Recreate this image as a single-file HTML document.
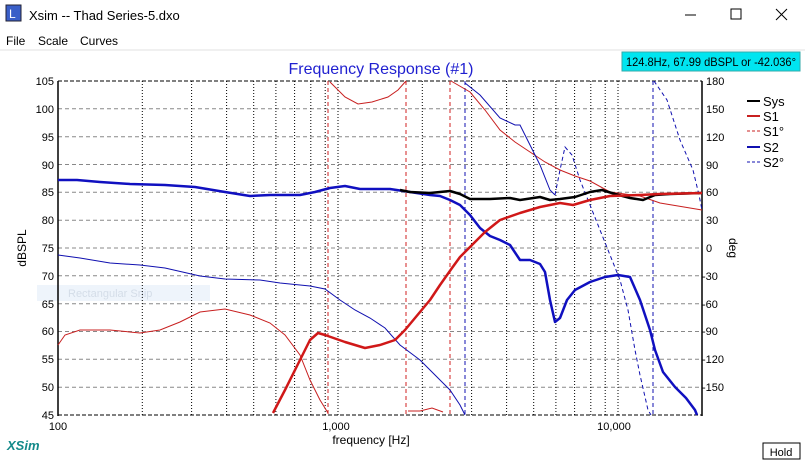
<!DOCTYPE html>
<html><head><meta charset="utf-8"><style>
body{margin:0;width:805px;height:460px;overflow:hidden;background:#fff;font-family:"Liberation Sans",sans-serif}
</style></head><body>
<svg width="805" height="460" xmlns="http://www.w3.org/2000/svg" font-family="Liberation Sans, sans-serif">
<rect width="805" height="460" fill="#fff"/>
<rect x="6" y="5" width="15" height="16" fill="#3a5fc8" stroke="#223" stroke-width="1"/>
<text x="9" y="18" font-size="12" fill="#fff">L</text>
<text x="29" y="20" font-size="13" fill="#000">Xsim -- Thad Series-5.dxo</text>
<line x1="685" y1="15" x2="696" y2="15" stroke="#000"/>
<rect x="731" y="9" width="10" height="10" fill="none" stroke="#000"/>
<path d="M776 9 L787 20 M787 9 L776 20" stroke="#000"/>
<text x="6" y="45" font-size="12">File</text>
<text x="38" y="45" font-size="12">Scale</text>
<text x="80" y="45" font-size="12">Curves</text>
<line x1="0" y1="50" x2="805" y2="50" stroke="#f0f0f0" stroke-width="2"/>
<text x="381" y="74" font-size="16" fill="#1f1fd0" text-anchor="middle">Frequency Response (#1)</text>
<rect x="622" y="52" width="178" height="19" fill="#00e5f0" stroke="#3aa" stroke-width="1"/>
<text x="626" y="66" font-size="12" textLength="170" lengthAdjust="spacingAndGlyphs">124.8Hz, 67.99 dBSPL or -42.036°</text>
<rect x="37" y="285" width="173" height="16" fill="#eef4fb"/>
<text x="68" y="297" font-size="11" fill="#d4dde8">Rectangular Snip</text>
<g stroke="#888" stroke-dasharray="4,3" stroke-width="1">
<line x1="58" y1="108.8" x2="702" y2="108.8"/><line x1="58" y1="136.7" x2="702" y2="136.7"/>
<line x1="58" y1="164.5" x2="702" y2="164.5"/><line x1="58" y1="192.3" x2="702" y2="192.3"/>
<line x1="58" y1="220.2" x2="702" y2="220.2"/><line x1="58" y1="248" x2="702" y2="248"/>
<line x1="58" y1="275.8" x2="702" y2="275.8"/><line x1="58" y1="303.7" x2="702" y2="303.7"/>
<line x1="58" y1="331.5" x2="702" y2="331.5"/><line x1="58" y1="359.3" x2="702" y2="359.3"/>
<line x1="58" y1="387.2" x2="702" y2="387.2"/>
</g>
<line x1="58" y1="81" x2="702" y2="81" stroke="#000" stroke-dasharray="4,2"/>
<line x1="58" y1="415" x2="702" y2="415" stroke="#000" stroke-dasharray="4,2"/>
<g stroke="#000" stroke-dasharray="1,2" stroke-width="1">
<line x1="142.3" y1="81" x2="142.3" y2="415"/><line x1="191.6" y1="81" x2="191.6" y2="415"/>
<line x1="226.6" y1="81" x2="226.6" y2="415"/><line x1="253.7" y1="81" x2="253.7" y2="415"/>
<line x1="275.9" y1="81" x2="275.9" y2="415"/><line x1="294.6" y1="81" x2="294.6" y2="415"/>
<line x1="310.8" y1="81" x2="310.8" y2="415"/><line x1="325.2" y1="81" x2="325.2" y2="415"/>
<line x1="338" y1="81" x2="338" y2="415"/>
<line x1="422.3" y1="81" x2="422.3" y2="415"/><line x1="471.6" y1="81" x2="471.6" y2="415"/>
<line x1="506.6" y1="81" x2="506.6" y2="415"/><line x1="533.7" y1="81" x2="533.7" y2="415"/>
<line x1="555.9" y1="81" x2="555.9" y2="415"/><line x1="574.6" y1="81" x2="574.6" y2="415"/>
<line x1="590.8" y1="81" x2="590.8" y2="415"/><line x1="605.2" y1="81" x2="605.2" y2="415"/>
<line x1="618" y1="81" x2="618" y2="415"/>
</g>
<line x1="58" y1="81" x2="58" y2="416" stroke="#000" stroke-width="1.5"/>
<line x1="702" y1="81" x2="702" y2="416" stroke="#000" stroke-width="1.5"/>
<g font-size="11" text-anchor="end">
<text x="54" y="85">105</text><text x="54" y="113">100</text><text x="54" y="141">95</text>
<text x="54" y="169">90</text><text x="54" y="196">85</text><text x="54" y="224">80</text>
<text x="54" y="252">75</text><text x="54" y="280">70</text><text x="54" y="308">65</text>
<text x="54" y="335">60</text><text x="54" y="363">55</text><text x="54" y="391">50</text>
<text x="54" y="419">45</text>
</g>
<g font-size="11">
<text x="706" y="85">180</text><text x="706" y="113">150</text><text x="706" y="141">120</text>
<text x="706" y="169">90</text><text x="706" y="196">60</text><text x="706" y="224">30</text>
<text x="706" y="252">0</text><text x="702" y="280">-30</text><text x="702" y="308">-60</text>
<text x="702" y="335">-90</text><text x="702" y="363">-120</text><text x="702" y="391">-150</text>
</g>
<text x="22" y="248" font-size="12" transform="rotate(-90 22 248)" text-anchor="middle" dy="4">dBSPL</text>
<text x="733" y="248" font-size="12" transform="rotate(90 733 248)" text-anchor="middle" dy="4">deg</text>
<g font-size="11" text-anchor="middle">
<text x="58" y="430">100</text><text x="336" y="430">1,000</text><text x="614" y="430">10,000</text>
</g>
<text x="371" y="444" font-size="12" text-anchor="middle">frequency [Hz]</text>
<text x="7" y="450" font-size="13" font-weight="bold" font-style="italic" fill="#138a8a">XSim</text>
<rect x="763" y="443" width="37" height="16" fill="#fff" stroke="#000"/>
<text x="781" y="456" font-size="11" text-anchor="middle">Hold</text>
<g stroke-width="2">
<line x1="747" y1="101" x2="760" y2="101" stroke="#000"/>
<line x1="747" y1="116" x2="760" y2="116" stroke="#c82020"/>
<line x1="747" y1="131" x2="760" y2="131" stroke="#c82020" stroke-width="1" stroke-dasharray="3,2"/>
<line x1="747" y1="147" x2="760" y2="147" stroke="#1010b0"/>
<line x1="747" y1="162" x2="760" y2="162" stroke="#1010b0" stroke-width="1" stroke-dasharray="3,2"/>
</g>
<g font-size="13"><text x="763" y="106">Sys</text><text x="763" y="121">S1</text><text x="763" y="136">S1°</text><text x="763" y="152">S2</text><text x="763" y="167">S2°</text></g>
<g stroke="#d02020" stroke-width="1" stroke-dasharray="4,3">
<line x1="328" y1="81" x2="328" y2="415"/><line x1="406" y1="81" x2="406" y2="415"/><line x1="450" y1="81" x2="450" y2="415"/>
</g>
<g stroke="#1010b0" stroke-width="1" stroke-dasharray="4,3" fill="none">
<line x1="465" y1="81" x2="465" y2="415"/><line x1="653" y1="81" x2="653" y2="415"/>
<polyline points="555,195 560,170 565,147 572,155 580,180 590,205 600,230 610,255 620,280 628,310 635,350 640,375 648,410 651,415"/>
<polyline points="654,81 667,100 680,140 693,170 699,195 702,210"/>
</g>
<g fill="none" stroke-width="1">
<polyline stroke="#c82020" points="58,345 65,335 80,330 110,330 140,333 160,330 180,322 200,312 225,309 250,315 270,323 285,335 300,355 310,380 320,400 328,413"/>
<polyline stroke="#c82020" points="330,82 345,97 358,104 372,102 388,97 398,90 406,81"/>
<polyline stroke="#c82020" points="408,411 420,411 432,408 443,412"/>
<polyline stroke="#c82020" points="451,81 470,92 485,110 500,130 515,142 530,152 545,162 560,170 575,176 590,181 610,192 640,196 660,203 702,210"/>
<polyline stroke="#1010b0" points="58,255 80,258 110,263 140,265 165,268 200,276 225,279 260,280 280,283 310,286 325,289 340,300 355,310 370,318 385,328 400,345 420,360 435,375 450,390 460,405 465,415"/>
<polyline stroke="#1010b0" points="465,83 480,95 500,118 515,125 520,125 525,135 540,165 550,190 555,195"/>
</g>
<g fill="none" stroke-width="2.5" stroke-linejoin="round">
<polyline stroke="#1010c0" points="58,180 77,180 100,182 130,184 165,185 195,187 225,192 250,196 270,195 300,195 315,192 330,188 345,186 360,189 390,189 410,192 430,195 440,196 450,200 460,205 470,215 480,228 490,236 500,240 510,245 520,260 530,260 540,264 545,272 550,300 555,322 560,318 567,300 575,290 590,282 605,277 618,275 630,277 640,300 650,330 655,350 663,372 675,387 686,398 695,410 697,415"/>
<polyline stroke="#000" points="400,190 410,192 430,193 450,191 460,194 470,199 490,199 510,198 520,200 540,197 550,200 560,199 575,197 590,192 602,190 615,194 630,198 643,200 655,195 670,194 702,193"/>
<polyline stroke="#d01818" points="273,413 285,390 300,360 310,340 318,333 325,335 345,342 365,348 380,345 395,340 405,330 415,318 430,300 440,285 452,268 460,257 470,247 485,232 500,220 520,213 540,207 560,203 573,205 590,200 610,196 640,195 660,194 702,193"/>
</g>
</svg>
</body></html>
